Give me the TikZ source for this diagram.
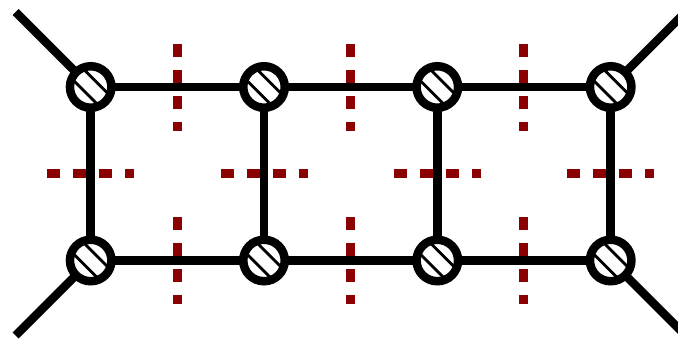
\documentclass[tikz,border=0pt]{standalone}
\usepackage{tikz}

\begin{document}
\begin{tikzpicture}[
  hatched/.style={circle, draw, fill=white, line width=0.085cm, inner sep=0pt, outer sep=0pt, minimum size=0.415cm,
    path picture={
      \draw[line width=0.028cm, shift={(path picture bounding box.center)}] (-0.147,0.253) -- (0.253,-0.147);
      \draw[line width=0.028cm, shift={(path picture bounding box.center)}] (-0.253,0.147) -- (0.147,-0.253);
    }},
  link/.style={line width=0.085cm},
  cut/.style={color={rgb,255:red,139;green,0;blue,0}, line width=0.09cm, dash pattern=on 0.13cm off 0.13cm}]
\clip (0,0) rectangle (6.78,3.39);
\coordinate (p1) at (1.77,2.95);
\coordinate (q1) at (1.77,2.08);
\coordinate (p2) at (3.505,2.95);
\coordinate (q2) at (3.505,2.08);
\coordinate (p3) at (5.235,2.95);
\coordinate (q3) at (5.235,2.08);
\coordinate (r1) at (1.77,1.22);
\coordinate (s1) at (1.77,0.35);
\coordinate (r2) at (3.505,1.22);
\coordinate (s2) at (3.505,0.35);
\coordinate (r3) at (5.235,1.22);
\coordinate (s3) at (5.235,0.35);
\coordinate (t1) at (0.47,1.655);
\coordinate (u1) at (1.34,1.655);
\coordinate (t2) at (2.205,1.655);
\coordinate (u2) at (3.075,1.655);
\coordinate (t3) at (3.94,1.655);
\coordinate (u3) at (4.81,1.655);
\coordinate (t4) at (5.67,1.655);
\coordinate (u4) at (6.54,1.655);
\draw[cut] (p1) to (q1);
\draw[cut] (p2) to (q2);
\draw[cut] (p3) to (q3);
\draw[cut] (r1) to (s1);
\draw[cut] (r2) to (s2);
\draw[cut] (r3) to (s3);
\draw[cut] (t1) to (u1);
\draw[cut] (t2) to (u2);
\draw[cut] (t3) to (u3);
\draw[cut] (t4) to (u4);
\node[hatched] (a) at (0.907,2.52) {};
\node[hatched] (b) at (2.64,2.52) {};
\node[hatched] (c) at (4.373,2.52) {};
\node[hatched] (d) at (6.107,2.52) {};
\node[hatched] (e) at (0.907,0.785) {};
\node[hatched] (f) at (2.64,0.785) {};
\node[hatched] (g) at (4.373,0.785) {};
\node[hatched] (h) at (6.107,0.785) {};
\coordinate (la) at (0.157,3.27);
\coordinate (ld) at (6.857,3.27);
\coordinate (le) at (0.157,0.035);
\coordinate (lh) at (6.857,0.035);
\draw[link] (a) to (b);
\draw[link] (b) to (c);
\draw[link] (c) to (d);
\draw[link] (e) to (f);
\draw[link] (f) to (g);
\draw[link] (g) to (h);
\draw[link] (a) to (e);
\draw[link] (b) to (f);
\draw[link] (c) to (g);
\draw[link] (d) to (h);
\draw[link] (a) to (la);
\draw[link] (d) to (ld);
\draw[link] (e) to (le);
\draw[link] (h) to (lh);
\end{tikzpicture}
\end{document}
